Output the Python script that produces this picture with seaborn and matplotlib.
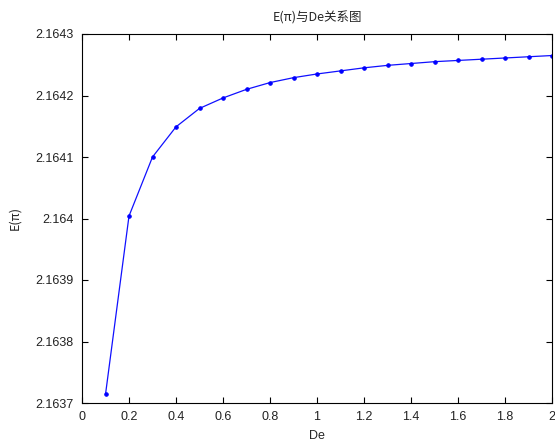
import matplotlib
matplotlib.use("Agg")
import matplotlib.pyplot as plt
import matplotlib.ticker as mticker
import seaborn as sns
import pandas as pd

# Deborah number and the corresponding E(π) values
de_values = [0.1, 0.2, 0.3, 0.4, 0.5, 0.6, 0.7, 0.8, 0.9, 1.0,
             1.1, 1.2, 1.3, 1.4, 1.5, 1.6, 1.7, 1.8, 1.9, 2.0]
e_values = [2.163714, 2.164004, 2.164100, 2.164149, 2.164179, 2.164196,
            2.164210, 2.164221, 2.164229, 2.164235, 2.164240, 2.164245,
            2.164249, 2.164252, 2.164255, 2.164257, 2.164259, 2.164261,
            2.164263, 2.164265]

x_ticks = [0, 0.2, 0.4, 0.6, 0.8, 1.0, 1.2, 1.4, 1.6, 1.8, 2.0]
y_ticks = [2.1637, 2.1638, 2.1639, 2.1640, 2.1641, 2.1642, 2.1643]

df = pd.DataFrame({"De": de_values, "E": e_values})

sns.set_theme(style="white")
plt.rcParams["font.family"] = ["Liberation Sans", "Noto Sans CJK SC", "DejaVu Sans"]
plt.rcParams["axes.unicode_minus"] = False

fig = plt.figure(figsize=(5.55, 4.47), dpi=100)
ax = fig.add_axes([82 / 555, 1 - 403 / 447, 470 / 555, 369 / 447])

sns.lineplot(data=df, x="De", y="E", ax=ax, color="#1010ff", linewidth=0.9,
             marker=".", markersize=5, markeredgecolor="#0000ff",
             markerfacecolor="#0000ff", estimator=None)

ax.set_xlim(0, 2)
ax.set_ylim(2.1637, 2.1643)
ax.set_xticks(x_ticks)
ax.set_yticks(y_ticks)

def fmt_g(v, _):
    return f"{v:.4f}".rstrip("0").rstrip(".")

ax.xaxis.set_major_formatter(mticker.FuncFormatter(fmt_g))
ax.yaxis.set_major_formatter(mticker.FuncFormatter(fmt_g))

for side in ax.spines.values():
    side.set_color("black")
    side.set_linewidth(0.8)

ax.tick_params(direction="in", length=4, width=0.8, colors="black",
               labelsize=9, top=True, right=True, bottom=True, left=True,
               pad=6)
ax.tick_params(axis="both", labelcolor="#222222")

cjk = ["Noto Sans CJK SC", "DejaVu Sans"]
ax.set_title("E(π)与De关系图", fontsize=9, family=cjk, pad=9)
ax.set_xlabel("De", fontsize=9, labelpad=5)
ax.set_ylabel("E(π)", fontsize=9, family=cjk, labelpad=10)

fig.savefig("out.png", dpi=100, facecolor="white")
